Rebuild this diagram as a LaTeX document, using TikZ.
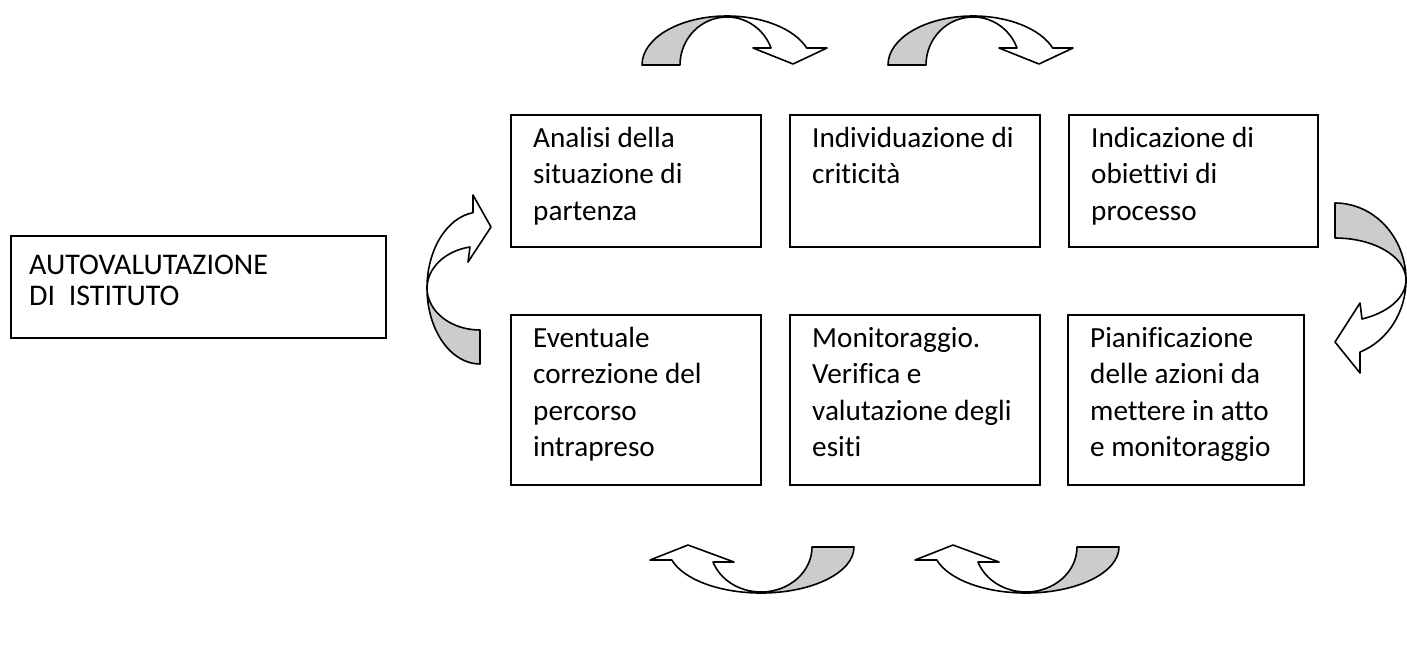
\documentclass[tikz,border=0pt]{standalone}
\usepackage{fontspec}
\setmainfont{Carlito}[Ligatures=NoCommon]
\usetikzlibrary{positioning}
\tikzset{
  block/.style={
    draw,
    rectangle,
    line width=1.6pt,
    minimum width=250pt,
    minimum height=132pt,
    inner sep=0pt,
    outer sep=0pt
  },
  blocktext/.style={
    anchor=north west,
    inner sep=0pt,
    align=left,
    font=\fontsize{29.2pt}{36.3pt}\selectfont,
    execute at begin node=\strut
  },
  bandback/.style={
    draw,
    line width=1.6pt,
    line join=round,
    fill=black!20
  },
  bandfront/.style={
    draw,
    line width=1.6pt,
    line join=round,
    fill=white
  }
}

\begin{document}
\begin{tikzpicture}[x=1pt, y=-1pt]
    \useasboundingbox (0,0) rectangle (1407,657);

    \node[block, anchor=north west] (analisi) at (511,115) {};
    \node[block, right=29pt of analisi] (criticita) {};
    \node[block, right=29pt of criticita, minimum width=249pt] (obiettivi) {};
    \node[block, below=68pt of analisi, minimum height=170pt] (correzione) {};
    \node[block, below=68pt of criticita, minimum height=170pt] (monitoraggio) {};
    \node[block, right=28pt of monitoraggio, minimum width=236pt, minimum height=170pt] (azioni) {};
    \node[block, anchor=north west, minimum width=375pt, minimum height=102pt] (rav) at (11,236) {};

    \node[blocktext, below right=12.2pt and 22pt of analisi.north west] (analisi-t) {Analisi della\\situazione di\\partenza};
    \node[blocktext, below right=12.2pt and 22pt of criticita.north west] (criticita-t) {Individuazione di\\criticità};
    \node[blocktext, below right=12.2pt and 22pt of obiettivi.north west] (obiettivi-t) {Indicazione di\\obiettivi di\\processo};
    \node[blocktext, below right=12.2pt and 22pt of correzione.north west] (correzione-t) {Eventuale\\correzione del\\percorso\\intrapreso};
    \node[blocktext, below right=12.2pt and 22pt of monitoraggio.north west] (monitoraggio-t) {Monitoraggio.\\Verifica e\\valutazione degli\\esiti};
    \node[blocktext, below right=12.2pt and 22pt of azioni.north west] (azioni-t) {Pianificazione\\delle azioni da\\mettere in atto\\e monitoraggio};
    \node[blocktext, font=\fontsize{30pt}{31pt}\selectfont, below right=19.3pt and 18pt of rav.north west] (rav-t) {AUTOVALUTAZIONE\\DI\ \ ISTITUTO};

    \draw[bandback] (642,65) arc[start angle=180, end angle=270, x radius=85, y radius=49] -- (727,17) arc[start angle=270, end angle=180, x radius=47, y radius=48] -- cycle;
    \draw[bandfront] (727,16) arc[start angle=270, end angle=339.7, x radius=85, y radius=49] -- (827,48) -- (793,64) -- (753,48) -- (771,48) arc[start angle=339.3, end angle=270, x radius=47, y radius=48] -- cycle;

    \draw[bandback] (888,65) arc[start angle=180, end angle=270, x radius=85, y radius=49] -- (973,17) arc[start angle=270, end angle=180, x radius=47, y radius=48] -- cycle;
    \draw[bandfront] (973,16) arc[start angle=270, end angle=339.7, x radius=85, y radius=49] -- (1073,48) -- (1039,64) -- (999,48) -- (1017,48) arc[start angle=339.3, end angle=270, x radius=47, y radius=48] -- cycle;

    \draw[bandback] (1406,280) arc[start angle=0, end angle=-90, x radius=71, y radius=77] -- (1335,238) arc[start angle=-90, end angle=0, x radius=71, y radius=42] -- cycle;
    \draw[bandfront] (1406,280) arc[start angle=0, end angle=69.4, x radius=71, y radius=77] -- (1360,373) -- (1335,342) -- (1360,303) -- (1362,319) arc[start angle=67.6, end angle=0, x radius=71, y radius=42] -- cycle;

    \draw[bandback] (854,547) arc[start angle=0, end angle=90, x radius=93, y radius=46] -- (761,592) arc[start angle=90, end angle=0, x radius=51, y radius=45] -- cycle;
    \draw[bandfront] (761,593) arc[start angle=90, end angle=163.6, x radius=93, y radius=46] -- (650,560) -- (688,545) -- (734,562) -- (713,562) arc[start angle=160.5, end angle=90, x radius=51, y radius=45] -- cycle;

    \draw[bandback] (1119,547) arc[start angle=0, end angle=90, x radius=93, y radius=46] -- (1026,592) arc[start angle=90, end angle=0, x radius=51, y radius=45] -- cycle;
    \draw[bandfront] (1026,593) arc[start angle=90, end angle=163.6, x radius=93, y radius=46] -- (915,560) -- (953,545) -- (999,562) -- (978,562) arc[start angle=160.5, end angle=90, x radius=51, y radius=45] -- cycle;

    \draw[bandback] (480,364) arc[start angle=90, end angle=180, x radius=53, y radius=76] -- (427,288) arc[start angle=180, end angle=90, x radius=53, y radius=42] -- cycle;
    \draw[bandfront] (427,288) arc[start angle=180, end angle=262.4, x radius=53, y radius=76] -- (473,195) -- (491,227) -- (468,262) -- (470,247) arc[start angle=259.1, end angle=180, x radius=53, y radius=42] -- cycle;
\end{tikzpicture}
\end{document}
